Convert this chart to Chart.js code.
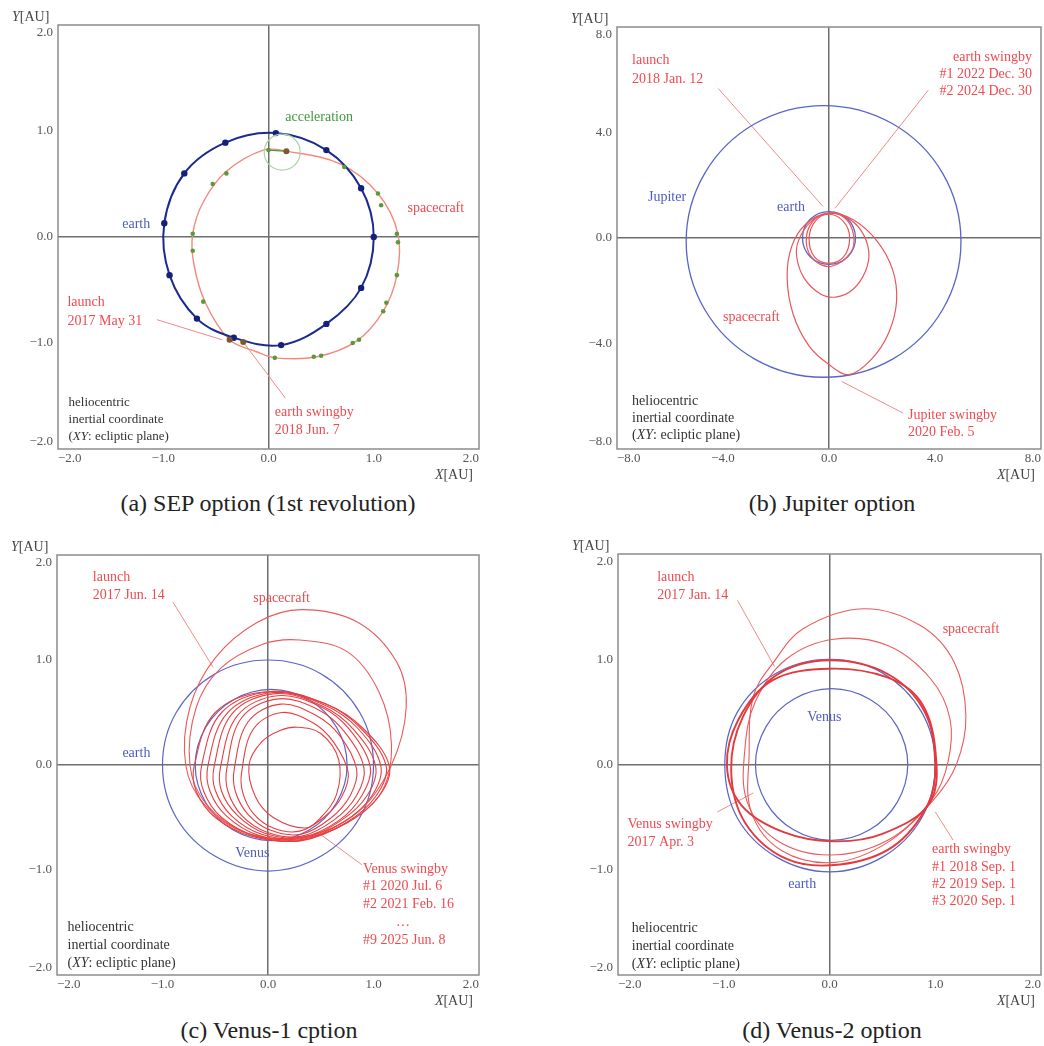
<!DOCTYPE html>
<html><head><meta charset="utf-8">
<script src="https://cdn.jsdelivr.net/npm/chart.js@4.4.0/dist/chart.umd.min.js"></script>
<style>
html,body{margin:0;padding:0;background:#fff;}
body{width:1044px;height:1046px;position:relative;overflow:hidden;font-family:"Liberation Serif",serif;}
canvas{position:absolute;}
.cap{position:absolute;width:500px;text-align:center;font-size:24px;line-height:30px;color:#222;white-space:nowrap;}
</style></head><body>
<canvas id="ca" width="500" height="485" style="left:0;top:0"></canvas>
<canvas id="cb" width="484" height="485" style="left:560px;top:0"></canvas>
<canvas id="cc" width="500" height="481" style="left:0;top:530px"></canvas>
<canvas id="cd" width="484" height="481" style="left:560px;top:530px"></canvas>
<div class="cap" id="cap0" style="left:18px;top:488px"></div>
<div class="cap" id="cap1" style="left:582px;top:488px"></div>
<div class="cap" id="cap2" style="left:19px;top:1015px"></div>
<div class="cap" id="cap3" style="left:582px;top:1015px"></div>
<script>
// ---------- tick values ----------
const ticksAU2 = [-2, -1, 0, 1, 2];
const ticksAU8 = [-8, -4, 0, 4, 8];
const captions = ['(a) SEP option (1st revolution)', '(b) Jupiter option', '(c) Venus-1 cption', '(d) Venus-2 option'];

// ---------- (a) SEP option (closed orbits: last point joins the first) ----------
const aEarth = [[1.0,0.0],[0.88,0.46],[0.55,0.82],[0.07,0.98],[-0.41,0.89],[-0.80,0.60],[-0.99,0.13],[-0.94,-0.36],[-0.68,-0.77],[-0.33,-0.95],[0.12,-1.02],[0.55,-0.82],[0.88,-0.48]];
const aCraft = [[-0.37,-0.97],[-0.12,-1.08],[0.06,-1.14],[0.46,-1.13],[0.84,-0.98],[1.09,-0.70],[1.22,-0.36],[1.23,0.03],[1.04,0.41],[0.68,0.69],[0.17,0.81],[-0.05,0.82],[-0.40,0.62],[-0.62,0.33],[-0.72,0.03],[-0.71,-0.25],[-0.60,-0.62]];
const aThrust = [[-0.40,0.60],[-0.53,0.50],[-0.72,0.03],[-0.72,-0.13],[-0.62,-0.61],[0.06,-1.14],[0.43,-1.13],[0.50,-1.12],[0.80,-1.0],[0.86,-0.97],[1.09,-0.70],[1.12,-0.62],[1.22,-0.36],[1.22,0.03],[1.23,-0.05],[1.04,0.41],[1.07,0.30],[0.72,0.66],[0.0,0.82]];
const aEvents = [[-0.37,-0.97],[-0.24,-0.99],[0.17,0.81]];
const aThrustArrow = [[0.0,0.82],[0.15,0.81]];
const aThrustRing = [[0.13,0.80]];
const aLeaders = [[[-1.06,-0.78],[-0.44,-0.97]], [[0.16,-1.52],[-0.24,-0.99]]];

// ---------- (b) Jupiter option ----------
const bJupiter = [[4.98,-0.13],[4.29,2.45],[2.40,4.33],[-0.2,5.02],[-2.8,4.33],[-4.69,2.45],[-5.39,-0.13],[-4.69,-2.71],[-2.8,-4.59],[-0.2,-5.28],[2.4,-4.59],[4.29,-2.71]];
const bEarth = [[1,0],[0.71,0.71],[0,1],[-0.71,0.71],[-1,0],[-0.71,-0.71],[0,-1],[0.71,-0.71]];
const bCraftLoops = [
  [[0,0.94],[0.62,0.74],[0.93,0.1],[0.82,-0.55],[0.1,-1.07],[-0.55,-0.85],[-0.86,-0.15],[-0.62,0.62]],
  [[0,0.9],[0.55,0.62],[0.78,0.0],[0.55,-0.72],[0,-0.96],[-0.55,-0.72],[-0.75,0.0],[-0.5,0.66]],
  [[0,0.94],[-0.7,0.6],[-1.15,-0.1],[-1.22,-0.7],[-0.95,-1.5],[-0.35,-2.1],[0.25,-2.24],[0.9,-1.95],[1.38,-1.25],[1.5,-0.5],[1.2,0.3],[0.6,0.82]],
  [[0,0.94],[-0.85,0.55],[-1.4,-0.3],[-1.58,-1.5],[-1.35,-2.9],[-0.75,-4.1],[0,-4.8],[0.75,-5.18],[1.6,-4.6],[2.25,-3.6],[2.55,-2.4],[2.4,-1.2],[1.8,-0.1],[0.9,0.7]]
];
const bLeaders = [[[-4.18,5.67],[-0.22,1.19]], [[3.75,5.61],[0.23,1.13]], [[0.48,-5.44],[2.80,-6.64]]];

// ---------- (c) Venus-1 option ----------
const cEarth = [[1,0],[0.87,0.5],[0.5,0.87],[0,1],[-0.5,0.87],[-0.87,0.5],[-1,0],[-0.87,-0.5],[-0.5,-0.87],[0,-1.01],[0.5,-0.87],[0.87,-0.5]];
const cVenus = [[0.75,0],[0.65,0.36],[0.39,0.62],[0.03,0.72],[-0.33,0.62],[-0.59,0.36],[-0.69,0],[-0.59,-0.36],[-0.33,-0.62],[0.03,-0.72],[0.39,-0.62],[0.65,-0.36]];
const cOuterLoops = [
  [[-0.78,0.0],[-0.74,0.55],[-0.5,1.02],[-0.1,1.36],[0.32,1.48],[0.85,1.36],[1.22,0.98],[1.31,0.55],[1.17,0.0],[0.85,-0.45],[0.35,-0.68],[-0.2,-0.65],[-0.6,-0.38]],
  [[-0.74,0.0],[-0.68,0.55],[-0.45,0.92],[-0.05,1.15],[0.3,1.19],[0.75,1.08],[1.05,0.7],[1.17,0.2],[1.08,-0.25],[0.75,-0.55],[0.3,-0.7],[-0.2,-0.65],[-0.58,-0.38]]
];
const cInnerLoops = [
  [[-0.70,-0.01],[-0.50,0.50],[0.0,0.70],[0.55,0.58],[0.90,0.35],[1.15,-0.01],[1.05,-0.30],[0.75,-0.55],[0.30,-0.72],[-0.15,-0.68],[-0.50,-0.50],[-0.68,-0.25]],
  [[-0.63,-0.01],[-0.44,0.50],[0.04,0.70],[0.55,0.58],[0.88,0.35],[1.12,-0.01],[1.02,-0.30],[0.74,-0.55],[0.32,-0.72],[-0.11,-0.68],[-0.44,-0.50],[-0.61,-0.25]],
  [[-0.57,-0.01],[-0.39,0.49],[0.05,0.69],[0.54,0.57],[0.85,0.35],[1.07,-0.01],[0.98,-0.30],[0.72,-0.54],[0.32,-0.71],[-0.09,-0.67],[-0.39,-0.49],[-0.55,-0.25]],
  [[-0.51,-0.01],[-0.34,0.49],[0.07,0.68],[0.52,0.56],[0.81,0.34],[1.02,-0.01],[0.94,-0.29],[0.69,-0.53],[0.32,-0.70],[-0.06,-0.66],[-0.34,-0.49],[-0.50,-0.24]],
  [[-0.45,-0.02],[-0.29,0.47],[0.09,0.66],[0.51,0.55],[0.78,0.33],[0.97,-0.02],[0.89,-0.29],[0.67,-0.53],[0.32,-0.69],[-0.03,-0.65],[-0.29,-0.48],[-0.44,-0.25]],
  [[-0.39,-0.03],[-0.25,0.45],[0.10,0.63],[0.49,0.52],[0.73,0.31],[0.91,-0.03],[0.84,-0.29],[0.63,-0.52],[0.31,-0.68],[-0.01,-0.64],[-0.25,-0.48],[-0.38,-0.25]],
  [[-0.32,-0.04],[-0.19,0.41],[0.12,0.58],[0.46,0.47],[0.68,0.28],[0.84,-0.04],[0.78,-0.29],[0.59,-0.51],[0.31,-0.66],[0.02,-0.62],[-0.19,-0.47],[-0.31,-0.25]],
  [[-0.25,-0.07],[-0.14,0.34],[0.13,0.50],[0.43,0.40],[0.62,0.22],[0.76,-0.07],[0.70,-0.30],[0.54,-0.49],[0.30,-0.63],[0.05,-0.60],[-0.14,-0.46],[-0.24,-0.26]],
  [[-0.18,0.0],[-0.06,0.22],[0.12,0.33],[0.28,0.36],[0.50,0.30],[0.67,0.05],[0.65,-0.28],[0.50,-0.50],[0.35,-0.60],[0.05,-0.50],[-0.12,-0.30]]
];
const cLeaders = [[[-0.90,1.55],[-0.52,0.93]], [[0.89,-0.95],[0.51,-0.67]]];

// ---------- (d) Venus-2 option ----------
const dEarth = [[1,0],[0.87,0.5],[0.5,0.87],[0,1],[-0.5,0.87],[-0.87,0.5],[-0.99,0],[-0.87,-0.51],[-0.5,-0.88],[0,-1.02],[0.5,-0.88],[0.87,-0.51]];
const dVenus = [[0.74,0],[0.64,0.36],[0.38,0.62],[0.02,0.72],[-0.34,0.62],[-0.60,0.36],[-0.70,0],[-0.60,-0.36],[-0.34,-0.62],[0.02,-0.72],[0.38,-0.62],[0.64,-0.36]];
const dThickLoops = [
  [[0,0.91],[0.54,0.83],[0.86,0.6],[1.0,0.15],[0.95,-0.36],[0.5,-0.66],[0.03,-0.73],[-0.44,-0.64],[-0.83,-0.39],[-0.97,-0.01],[-0.86,0.43],[-0.54,0.80]],
  [[0,0.99],[0.55,0.86],[0.9,0.5],[1.0,0.0],[0.93,-0.38],[0.6,-0.78],[0.1,-0.95],[-0.4,-0.9],[-0.8,-0.55],[-0.93,-0.05],[-0.82,0.45],[-0.5,0.85]]
];
const dThinLoops = [
  [[0.04,1.19],[0.55,1.13],[0.96,0.81],[1.14,0.43],[1.12,0.02],[0.97,-0.33],[0.55,-0.72],[0.0,-0.86],[-0.5,-0.72],[-0.78,-0.35],[-0.80,0.15],[-0.70,0.6],[-0.41,1.0]],
  [[0.32,1.48],[0.86,1.32],[1.18,0.97],[1.29,0.46],[1.2,0.0],[0.98,-0.34],[0.55,-0.74],[0.05,-0.93],[-0.45,-0.82],[-0.74,-0.45],[-0.76,0.1],[-0.72,0.65],[-0.53,0.97],[-0.25,1.29]]
];
const dLeaders = [[[-0.87,1.56],[-0.52,0.93]], [[-1.06,-0.45],[-0.72,-0.27]], [[1.17,-0.72],[1.0,-0.45]]];

// ---------- text ----------
const coordNote = ['heliocentric', 'inertial coordinate', [['(',0],['XY',1],[': ecliptic plane)',0]]];

// ---------- styles ----------
const FONT = '"Liberation Serif", "Times New Roman", serif';
const RED_T = '#ee4b50', BLUE_T = '#4f5bbd', GREEN_T = '#3d9a3d', BLACK_T = '#333';
const LEAD = '#f08a8a';

const XY = pts => pts.map(([x, y]) => ({ x, y }));
function line(pts, color, width, extra) {
  return Object.assign({ data: XY(pts), borderColor: color, borderWidth: width, pointRadius: 0,
    pointHoverRadius: 0, tension: 0.36, fill: false, showLine: true }, extra || {});
}
function orbit(pts, color, width, extra) { return line(pts, color, width, Object.assign({ closed: true }, extra || {})); }
function leaders(list) { return list.map(p => line(p, LEAD, 1, { tension: 0 })); }

// closes orbit datasets into smooth loops (same mechanism Chart.js uses for radar lines)
const closedLoops = {
  id: 'closedLoops',
  afterDatasetsUpdate(chart) {
    chart.data.datasets.forEach((ds, i) => {
      if (!ds.closed) return;
      const el = chart.getDatasetMeta(i).dataset;
      if (!el) return;
      el._loop = true; el._fullLoop = true;
      el._pointsUpdated = false; el._path = undefined; el._segments = undefined;
      if (typeof el.updateControlPoints === 'function') el.updateControlPoints(chart.chartArea, 'x');
    });
  }
};

function drawRich(ctx, ln, x, y, size, align) {
  const segs = typeof ln === 'string' ? [[ln, 0]] : ln;
  const f = it => (it ? 'italic ' : '') + size + 'px ' + FONT;
  let w = 0;
  for (const [t, it] of segs) { ctx.font = f(it); w += ctx.measureText(t).width; }
  let sx = align === 'right' ? x - w : align === 'center' ? x - w / 2 : x;
  ctx.textAlign = 'left';
  for (const [t, it] of segs) { ctx.font = f(it); ctx.fillText(t, sx, y); sx += ctx.measureText(t).width; }
}

function notesPlugin(items) {
  return { id: 'notes', afterDraw(chart) {
    const ctx = chart.ctx, sx = chart.scales.x, sy = chart.scales.y, ca = chart.chartArea;
    ctx.save();
    ctx.textBaseline = 'middle';
    ctx.strokeStyle = '#8c8c8c'; ctx.lineWidth = 1.5;
    ctx.strokeRect(ca.left, ca.top, ca.right - ca.left, ca.bottom - ca.top);
    ctx.fillStyle = '#444';
    drawRich(ctx, [['Y', 1], ['[AU]', 0]], ca.left - 46, ca.top - 8, 14, 'left');
    drawRich(ctx, [['X', 1], ['[AU]', 0]], ca.right - 6, ca.bottom + 26, 14, 'right');
    for (const it of items) {
      const px = sx.getPixelForValue(it.x), py = sy.getPixelForValue(it.y);
      ctx.fillStyle = it.color;
      it.lines.forEach((ln, i) => drawRich(ctx, ln, px, py + i * (it.lh || 18), it.size || 14, it.align || 'left'));
    }
    ctx.restore();
  }};
}

function fmt(v) { return (v < 0 ? '\u2212' : '') + Math.abs(v).toFixed(1); }

function makeChart(id, ticks, pad, yW, datasets, notes) {
  const lim = ticks[ticks.length - 1];
  const tickFont = { family: FONT, size: 13 };
  const grid = { color: c => (c.tick && c.tick.value === 0) ? '#6e6e6e' : 'rgba(0,0,0,0)', lineWidth: 1.5, drawTicks: false };
  return new Chart(document.getElementById(id), {
    type: 'line',
    data: { datasets },
    options: {
      responsive: false, animation: false, devicePixelRatio: 1,
      layout: { padding: pad },
      plugins: { legend: { display: false }, tooltip: { enabled: false } },
      events: [],
      scales: {
        x: { type: 'linear', min: -lim, max: lim,
          afterBuildTicks: s => { s.ticks = ticks.map(v => ({ value: v })); },
          afterFit: s => { s.height = 21; },
          ticks: { align: 'inner', padding: 2, maxRotation: 0, autoSkip: false, font: tickFont, color: '#555', callback: v => fmt(v) },
          grid, border: { display: false } },
        y: { type: 'linear', min: -lim, max: lim,
          afterBuildTicks: s => { s.ticks = ticks.map(v => ({ value: v })); },
          afterFit: s => { s.width = yW; },
          ticks: { padding: 5, autoSkip: false, font: tickFont, color: '#555',
            callback: v => v === lim ? ['', fmt(v)] : v === -lim ? [fmt(v), ''] : fmt(v) },
          grid, border: { display: false } }
      }
    },
    plugins: [closedLoops, notesPlugin(notes)]
  });
}

captions.forEach((t, i) => { document.getElementById('cap' + i).textContent = t; });

// (a)
makeChart('ca', ticksAU2, { left: 0, top: 25, right: 21, bottom: 15 }, 58, [
  line(aEvents, 'rgba(0,0,0,0)', 0, { showLine: false, pointRadius: 3, pointBackgroundColor: '#7a5a2c', pointBorderWidth: 0 }),
  line(aThrust, 'rgba(0,0,0,0)', 0, { showLine: false, pointRadius: 2.3, pointBackgroundColor: '#5b9a3c', pointBorderWidth: 0 }),
  line(aThrustArrow, '#4f9a3f', 1.3, { tension: 0 }),
  line(aThrustRing, 'rgba(0,0,0,0)', 0, { showLine: false, pointRadius: 18, pointBackgroundColor: 'rgba(0,0,0,0)', pointBorderColor: '#a9d3a9', pointBorderWidth: 1.2 }),
  orbit(aEarth, '#1b2a8e', 2, { pointRadius: 3.2, pointBackgroundColor: '#14207a', pointBorderWidth: 0 }),
  orbit(aCraft, '#f28a7e', 1.4),
  ...leaders(aLeaders)
], [
  { x: 0.16, y: 1.13, lines: ['acceleration'], color: GREEN_T },
  { x: -1.39, y: 0.12, lines: ['earth'], color: BLUE_T },
  { x: 1.32, y: 0.27, lines: ['spacecraft'], color: RED_T },
  { x: -1.91, y: -0.62, lines: ['launch', '2017 May 31'], color: RED_T, lh: 19 },
  { x: 0.06, y: -1.65, lines: ['earth swingby', '2018 Jun. 7'], color: RED_T, lh: 18 },
  { x: -1.90, y: -1.56, lines: coordNote, color: BLACK_T, lh: 17, size: 13 }
]);

// (b)
makeChart('cb', ticksAU8, { left: 0, top: 27, right: 3, bottom: 15 }, 57, [
  ...bCraftLoops.map(p => orbit(p, '#e8575c', 1.2)),
  orbit(bEarth, '#5a64c6', 1.3),
  orbit(bJupiter, '#5a64c6', 1.3),
  ...leaders(bLeaders)
], [
  { x: -7.43, y: 6.74, lines: ['launch', '2018 Jan. 12'], color: RED_T, lh: 19 },
  { x: 7.66, y: 6.86, lines: ['earth swingby', '#1 2022 Dec. 30', '#2 2024 Dec. 30'], color: RED_T, lh: 17, align: 'right' },
  { x: -6.83, y: 1.55, lines: ['Jupiter'], color: BLUE_T },
  { x: -1.96, y: 1.17, lines: ['earth'], color: BLUE_T },
  { x: -4.0, y: -2.99, lines: ['spacecraft'], color: RED_T },
  { x: 2.98, y: -6.74, lines: ['Jupiter swingby', '2020 Feb. 5'], color: RED_T, lh: 17 },
  { x: -7.43, y: -6.21, lines: coordNote, color: BLACK_T, lh: 17 }
]);

// (c)
makeChart('cc', ticksAU2, { left: 0, top: 25, right: 21, bottom: 15 }, 57, [
  ...cInnerLoops.map(p => orbit(p, '#e83f42', 1.1)),
  ...cOuterLoops.map(p => orbit(p, '#ec5a5c', 1.1)),
  orbit(cVenus, '#5a64c6', 1.2),
  orbit(cEarth, '#5a64c6', 1.2),
  ...leaders(cLeaders)
], [
  { x: -1.66, y: 1.79, lines: ['launch', '2017 Jun. 14'], color: RED_T, lh: 18 },
  { x: -0.14, y: 1.59, lines: ['spacecraft'], color: RED_T },
  { x: -1.38, y: 0.11, lines: ['earth'], color: BLUE_T },
  { x: -0.31, y: -0.84, lines: ['Venus'], color: BLUE_T },
  { x: 0.90, y: -0.99, lines: ['Venus swingby', '#1 2020 Jul. 6', '#2 2021 Feb. 16'], color: RED_T, lh: 17.5 },
  { x: 1.28, y: -1.50, lines: ['\u2026'], color: RED_T, align: 'center' },
  { x: 0.90, y: -1.67, lines: ['#9 2025 Jun. 8'], color: RED_T },
  { x: -1.90, y: -1.55, lines: coordNote, color: BLACK_T, lh: 18 }
]);

// (d)
makeChart('cd', ticksAU2, { left: 0, top: 24, right: 3, bottom: 15 }, 58, [
  ...dThickLoops.map(p => orbit(p, '#e23a3e', 1.9)),
  ...dThinLoops.map(p => orbit(p, '#ec5a5c', 1.1)),
  orbit(dVenus, '#5a64c6', 1.2),
  orbit(dEarth, '#5a64c6', 1.2),
  ...leaders(dLeaders)
], [
  { x: -1.63, y: 1.78, lines: ['launch', '2017 Jan. 14'], color: RED_T, lh: 18 },
  { x: 1.07, y: 1.28, lines: ['spacecraft'], color: RED_T },
  { x: -0.21, y: 0.45, lines: ['Venus'], color: BLUE_T },
  { x: -0.39, y: -1.14, lines: ['earth'], color: BLUE_T },
  { x: -1.91, y: -0.57, lines: ['Venus swingby', '2017 Apr. 3'], color: RED_T, lh: 18 },
  { x: 0.97, y: -0.81, lines: ['earth swingby', '#1 2018 Sep. 1', '#2 2019 Sep. 1', '#3 2020 Sep. 1'], color: RED_T, lh: 17.3 },
  { x: -1.87, y: -1.56, lines: coordNote, color: BLACK_T, lh: 18 }
]);
</script>
</body></html>
